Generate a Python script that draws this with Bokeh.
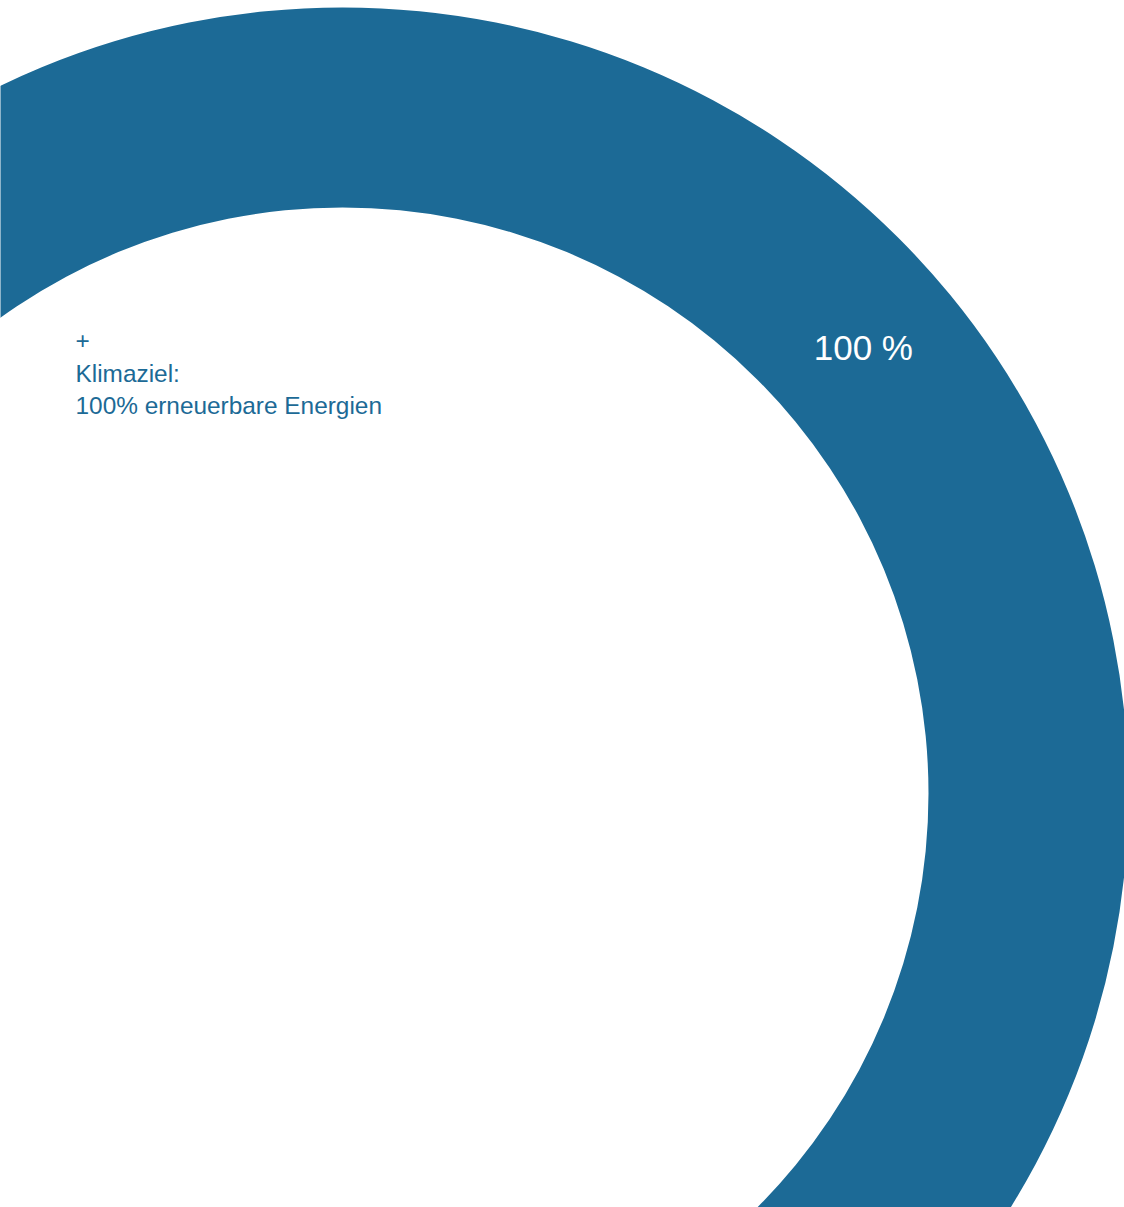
import math
from bokeh.plotting import figure
from bokeh.models import Range1d
from bokeh.core.properties import value
from bokeh.embed import file_html
from bokeh.resources import INLINE

# ---- data ----
categories = ["Klimaziel: 100% erneuerbare Energien"]
values = [100]
slice_labels = ["100 %"]
legend_lines = ["+", "Klimaziel:", "100% erneuerbare Energien"]

# ---- style / layout ----
COLOR = "#1c6a96"
W, H = 1124, 1207
cx, cy = 342, -793
r_in, r_out = 586, 786

p = figure(width=W, height=H, output_backend="svg", toolbar_location=None,
           x_range=Range1d(0, W), y_range=Range1d(-H, 0),
           min_border=0)
p.axis.visible = False
p.grid.visible = False
p.outline_line_color = None
p.background_fill_color = "white"
p.border_fill_color = "white"

total = sum(values)
starts, ends = [], []
acc = 0.0
for v in values:
    a0 = math.pi / 2 - 2 * math.pi * acc / total
    acc += v
    a1 = math.pi / 2 - 2 * math.pi * acc / total
    starts.append(a1)
    ends.append(a0)

full = [abs(e - s) >= 2 * math.pi - 1e-9 for s, e in zip(starts, ends)]
if all(full):
    p.annulus(x=[cx] * len(values), y=[cy] * len(values), inner_radius=r_in,
              outer_radius=r_out, fill_color=COLOR, line_color=None)
else:
    p.annular_wedge(x=cx, y=cy, inner_radius=r_in, outer_radius=r_out,
                    start_angle=starts, end_angle=ends,
                    fill_color=COLOR, line_color=None)

# slice label
r_mid = (r_in + r_out) / 2
ang = math.radians(40.6)
p.text(x=[cx + r_mid * math.cos(ang)], y=[cy + r_mid * math.sin(ang)],
       text=slice_labels, text_color="white", text_font=value("Liberation Sans"),
       text_font_size="35px", text_align="center", text_baseline="middle")

# legend text
ys = [-340, -373, -405]
p.text(x=[75] * len(legend_lines), y=ys, text=legend_lines, text_color=COLOR,
       text_font=value("Liberation Sans"), text_font_size="24.4px",
       text_align="left", text_baseline="middle")

open("out.html", "w").write(file_html(p, INLINE))
